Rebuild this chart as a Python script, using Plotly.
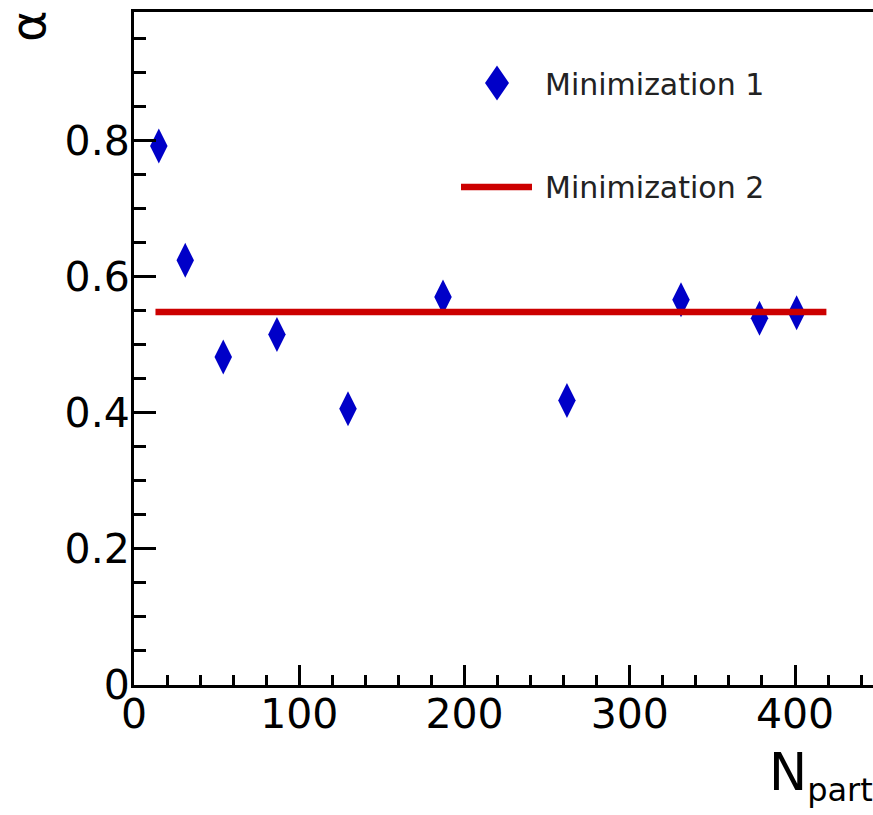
import plotly.graph_objects as go

# Data
npart = [15, 31, 54, 86.5, 129.5, 187, 262, 331, 378.5, 401]
alpha_min1 = [0.792, 0.624, 0.482, 0.515, 0.406, 0.570, 0.418, 0.566, 0.539, 0.547]
line_x = [13, 419]
line_y = [0.548, 0.548]

series1_name = "Minimization 1"
series2_name = "Minimization 2"

BLUE = "#0000C8"
RED = "#CC0000"
FONT = "DejaVu Sans"

W, H = 873, 815
L, R, T, B = 134, 0, 12, 130
pw, ph = W - L - R, H - T - B

fig = go.Figure()
fig.add_trace(go.Scatter(
    x=npart, y=alpha_min1, mode="markers", name=series1_name,
    marker=dict(symbol="diamond-tall", size=25, color=BLUE, line=dict(width=0)),
    showlegend=False, cliponaxis=False))
fig.add_trace(go.Scatter(
    x=line_x, y=line_y, mode="lines", name=series2_name,
    line=dict(color=RED, width=6.5), showlegend=False))

def px2paper(px, py):
    return (px - L) / pw, (H - B - py) / ph

# manual legend
dx, dy = px2paper(497, 83)
fig.add_shape(type="path", xref="paper", yref="paper", xsizemode="pixel", ysizemode="pixel",
              xanchor=dx, yanchor=dy, path="M0,17.5 L12,0 L0,-17.5 L-12,0 Z",
              fillcolor=BLUE, line=dict(width=0))
lx0, ly = px2paper(461, 187)
lx1, _ = px2paper(532, 187)
fig.add_shape(type="line", xref="paper", yref="paper", x0=lx0, x1=lx1, y0=ly, y1=ly,
              line=dict(color=RED, width=6.5))
tx, ty1 = px2paper(543, 85)
_, ty2 = px2paper(543, 188)
for tyy, txt in [(ty1, series1_name), (ty2, series2_name)]:
    fig.add_annotation(x=tx, y=tyy, xref="paper", yref="paper", text=txt, showarrow=False,
                       xanchor="left", yanchor="middle", font=dict(family=FONT, size=30, color="#222"))

# axis titles
ax, ay = px2paper(28, 26)
fig.add_annotation(x=ax, y=ay, xref="paper", yref="paper", text="α", showarrow=False,
                   textangle=-90, xanchor="center", yanchor="middle",
                   font=dict(family=FONT, size=48, color="black"))
nx, ny = px2paper(875, 776)
fig.add_annotation(x=nx, y=ny, xref="paper", yref="paper",
                   text="N<sub><span style='font-size:32px'>part</span></sub>", showarrow=False,
                   xanchor="right", yanchor="middle",
                   font=dict(family=FONT, size=51, color="black"))

fig.update_layout(
    width=W, height=H, margin=dict(l=L, r=R, t=T, b=B, pad=0),
    plot_bgcolor="white", paper_bgcolor="white", showlegend=False,
    font=dict(family=FONT, color="black"),
)
fig.update_xaxes(range=[0, pw / 1.6525], showgrid=False, zeroline=False,
                 showline=True, linecolor="black", linewidth=3, mirror=True,
                 ticks="inside", tickmode="linear", tick0=0, dtick=100, ticklen=20, tickwidth=2.5,
                 tickcolor="black", tickfont=dict(family=FONT, size=41, color="black"),
                 ticklabelstandoff=-9,
                 minor=dict(ticks="inside", dtick=20, ticklen=10, tickwidth=2.5, tickcolor="black"))
fig.update_yaxes(range=[0, ph / 680.5], showgrid=False, zeroline=False,
                 showline=True, linecolor="black", linewidth=3, mirror=False,
                 ticks="inside", tickmode="linear", tick0=0, dtick=0.2, ticklen=22, tickwidth=2.5,
                 tickcolor="black", tickfont=dict(family=FONT, size=41, color="black"),
                 tickformat=".1~f", ticklabelstandoff=-7,
                 minor=dict(ticks="inside", dtick=0.05, ticklen=12, tickwidth=2.5, tickcolor="black"))

fig.write_html("out.html", config={"displayModeBar": False},
               post_script="document.body.style.margin='0';")
